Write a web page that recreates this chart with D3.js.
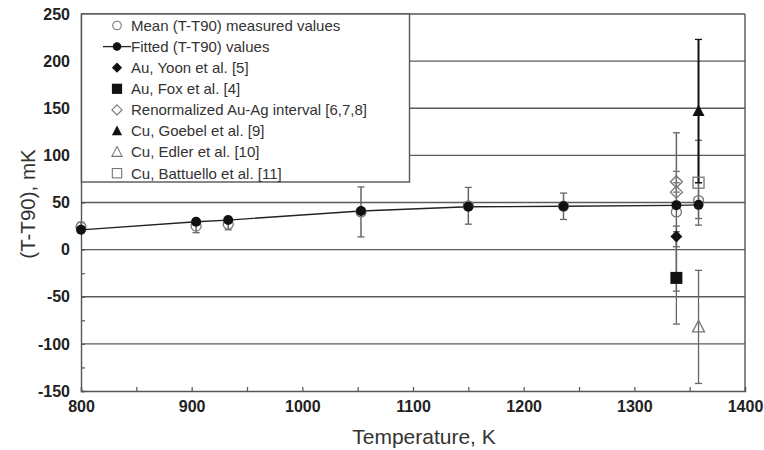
<!DOCTYPE html>
<html><head><meta charset="utf-8">
<script src="https://cdn.jsdelivr.net/npm/d3@7"></script>
<style>body{margin:0;background:#fff}svg{display:block}</style>
</head><body>
<svg id="c" width="764" height="450"></svg>
<script>
// ---- data ----
const fitT = [800, 904, 933, 1053, 1150, 1236, 1338, 1358];
const fitV = [21, 29.6, 31.4, 41, 45.5, 46, 47, 47.5];
const meanT = [800, 904, 933, 1053, 1150, 1236, 1338, 1358];
const meanV = [24, 25, 27, 40, 46.5, 46, 40, 52];
const meanErr = [5, 7, 6, 26.5, 19.5, 14, 84, 19];
const yoonT = [1338], yoonV = [14], yoonErr = [11];
const foxT = [1338], foxV = [-30], foxErr = [49];
const renT = [1338, 1338], renV = [72, 61], renErr = [11, 10];
const goebelT = [1358], goebelV = [147], goebelErr = [76];
const edlerT = [1358], edlerV = [-82], edlerErr = [60];
const battT = [1358], battV = [71], battErr = [45];
const xTicks = [800, 900, 1000, 1100, 1200, 1300, 1400];
const yTicks = [-150, -100, -50, 0, 50, 100, 150, 200, 250];
const gridVals = [-100, -50, 0, 50, 100, 150, 200];
const legendLabels = ["Mean (T-T90) measured values", "Fitted (T-T90) values", "Au, Yoon et al. [5]",
  "Au, Fox et al. [4]", "Renormalized Au-Ag interval [6,7,8]", "Cu, Goebel et al. [9]",
  "Cu, Edler et al. [10]", "Cu, Battuello et al. [11]"];

const svg = d3.select("#c");
const x = d3.scaleLinear([800, 1400], [81, 745]);
const y = d3.scaleLinear([-150, 250], [391, 14]);
const axisCol = "#555", gridCol = "#5a5a5a";
const fmt = d => String(d);

// grid
svg.append("g").selectAll("line").data(gridVals).join("line")
  .attr("x1", x(800)).attr("x2", x(1400)).attr("y1", d => y(d)).attr("y2", d => y(d))
  .attr("stroke", gridCol).attr("stroke-width", 1.4);

// frame top/right
svg.append("line").attr("x1", x(800)).attr("x2", x(1400)).attr("y1", y(250)).attr("y2", y(250)).attr("stroke", axisCol).attr("stroke-width", 1.4);
svg.append("line").attr("x1", x(1400)).attr("x2", x(1400)).attr("y1", y(250)).attr("y2", y(-150)).attr("stroke", axisCol).attr("stroke-width", 1.4);

// axes
const font = "'Liberation Sans', Arial, sans-serif";
svg.append("g").attr("transform", `translate(0,${y(-150)})`)
  .call(d3.axisBottom(x).tickValues(xTicks).tickFormat(fmt).tickSize(-4).tickPadding(10));
svg.append("g").attr("transform", `translate(0,${y(-150)})`)
  .call(d3.axisBottom(x).tickValues(d3.range(850, 1400, 100)).tickFormat("").tickSize(-4))
  .call(g => g.select(".domain").remove());
svg.append("g").attr("transform", `translate(${x(800)},0)`)
  .call(d3.axisLeft(y).tickValues(yTicks).tickFormat(fmt).tickSize(-4).tickPadding(11));
svg.append("g").attr("transform", `translate(${x(800)},0)`)
  .call(d3.axisLeft(y).tickValues(d3.range(-125, 250, 50)).tickFormat("").tickSize(-4))
  .call(g => g.select(".domain").remove());
svg.selectAll(".domain").attr("stroke", axisCol).attr("stroke-width", 1.4);
svg.selectAll(".tick line").attr("stroke", axisCol).attr("stroke-width", 1.2);
svg.selectAll(".tick text").attr("font-family", font).attr("font-size", 16)
  .attr("font-weight", "bold").attr("fill", "#222");

// titles
svg.append("text").attr("x", 424).attr("y", 444).attr("text-anchor", "middle")
  .attr("font-family", font).attr("font-size", 21).attr("fill", "#333").text("Temperature, K");
svg.append("text").attr("transform", `translate(35,204) rotate(-90)`).attr("text-anchor", "middle")
  .attr("font-family", font).attr("font-size", 20.5).attr("fill", "#333").text("(T-T90), mK");

// legend box
const lg = svg.append("g");
lg.append("rect").attr("x", 81.5).attr("y", 14).attr("width", 328).attr("height", 168)
  .attr("fill", "#fff").attr("stroke", axisCol).attr("stroke-width", 1.4);

// symbol helpers
function sym(g, type, cx, cy) {
  const s = 6;
  if (type === "ocircle") g.append("circle").attr("cx", cx).attr("cy", cy).attr("r", 5).attr("fill", "none").attr("stroke", "#777").attr("stroke-width", 1.3);
  if (type === "fcircle") g.append("circle").attr("cx", cx).attr("cy", cy).attr("r", 5).attr("fill", "#111");
  if (type === "fdiamond") g.append("path").attr("d", `M${cx},${cy-s}L${cx+s},${cy}L${cx},${cy+s}L${cx-s},${cy}Z`).attr("fill", "#111");
  if (type === "odiamond") g.append("path").attr("d", `M${cx},${cy-s}L${cx+s},${cy}L${cx},${cy+s}L${cx-s},${cy}Z`).attr("fill", "none").attr("stroke", "#777").attr("stroke-width", 1.3);
  if (type === "fsquare") g.append("rect").attr("x", cx-s).attr("y", cy-s).attr("width", 2*s).attr("height", 2*s).attr("fill", "#111");
  if (type === "osquare") g.append("rect").attr("x", cx-5.5).attr("y", cy-5.5).attr("width", 11).attr("height", 11).attr("fill", "none").attr("stroke", "#777").attr("stroke-width", 1.3);
  if (type === "ftri") g.append("path").attr("d", `M${cx},${cy-6.5}L${cx+6},${cy+5}L${cx-6},${cy+5}Z`).attr("fill", "#111");
  if (type === "otri") g.append("path").attr("d", `M${cx},${cy-6.5}L${cx+6},${cy+5}L${cx-6},${cy+5}Z`).attr("fill", "none").attr("stroke", "#777").attr("stroke-width", 1.3);
}
function legSym(g, type, cx, cy) {
  const gg = g.append("g").attr("transform", `translate(${cx},${cy}) scale(0.85)`);
  sym(gg, type, 0, 0);
}
const legTypes = ["ocircle", "fcircle", "fdiamond", "fsquare", "odiamond", "ftri", "otri", "osquare"];
legendLabels.forEach((t, i) => {
  const cy = 25.5 + i * 21.1;
  if (i === 1) lg.append("line").attr("x1", 103).attr("x2", 131).attr("y1", cy).attr("y2", cy).attr("stroke", "#222").attr("stroke-width", 1.3);
  legSym(lg, legTypes[i], 117, cy);
  lg.append("text").attr("x", 131).attr("y", cy + 5.3).attr("font-family", font).attr("font-size", 15)
    .attr("fill", "#333").text(t);
});

// error bars
const eb = svg.append("g");
function errBars(T, V, E, col, w) {
  T.forEach((t, i) => {
    const cx = x(t), y1 = y(V[i] + E[i]), y2 = y(V[i] - E[i]);
    eb.append("line").attr("x1", cx).attr("x2", cx).attr("y1", y1).attr("y2", y2).attr("stroke", col).attr("stroke-width", w);
    [y1, y2].forEach(yy => eb.append("line").attr("x1", cx - 3.5).attr("x2", cx + 3.5).attr("y1", yy).attr("y2", yy).attr("stroke", col).attr("stroke-width", 1.3));
  });
}
errBars(meanT, meanV, meanErr, "#666", 1.5);
errBars(yoonT, yoonV, yoonErr, "#666", 1.3);
errBars(foxT, foxV, foxErr, "#666", 1.3);
errBars(renT, renV, renErr, "#777", 1.2);
errBars(edlerT, edlerV, edlerErr, "#666", 1.3);
errBars(battT, battV, battErr, "#666", 1.3);
errBars(goebelT, goebelV, goebelErr, "#111", 2);

// fitted line
const pts = fitT.map((t, i) => [x(t), y(fitV[i])]);
svg.append("path").attr("d", d3.line()(pts)).attr("fill", "none").attr("stroke", "#222").attr("stroke-width", 1.3);

// markers
const mk = svg.append("g");
meanT.forEach((t, i) => sym(mk, "ocircle", x(t), y(meanV[i])));
renT.forEach((t, i) => sym(mk, "odiamond", x(t), y(renV[i])));
battT.forEach((t, i) => sym(mk, "osquare", x(t), y(battV[i])));
edlerT.forEach((t, i) => sym(mk, "otri", x(t), y(edlerV[i])));
fitT.forEach((t, i) => sym(mk, "fcircle", x(t), y(fitV[i])));
yoonT.forEach((t, i) => sym(mk, "fdiamond", x(t), y(yoonV[i])));
foxT.forEach((t, i) => sym(mk, "fsquare", x(t), y(foxV[i])));
goebelT.forEach((t, i) => sym(mk, "ftri", x(t), y(goebelV[i])));
</script>
</body></html>
